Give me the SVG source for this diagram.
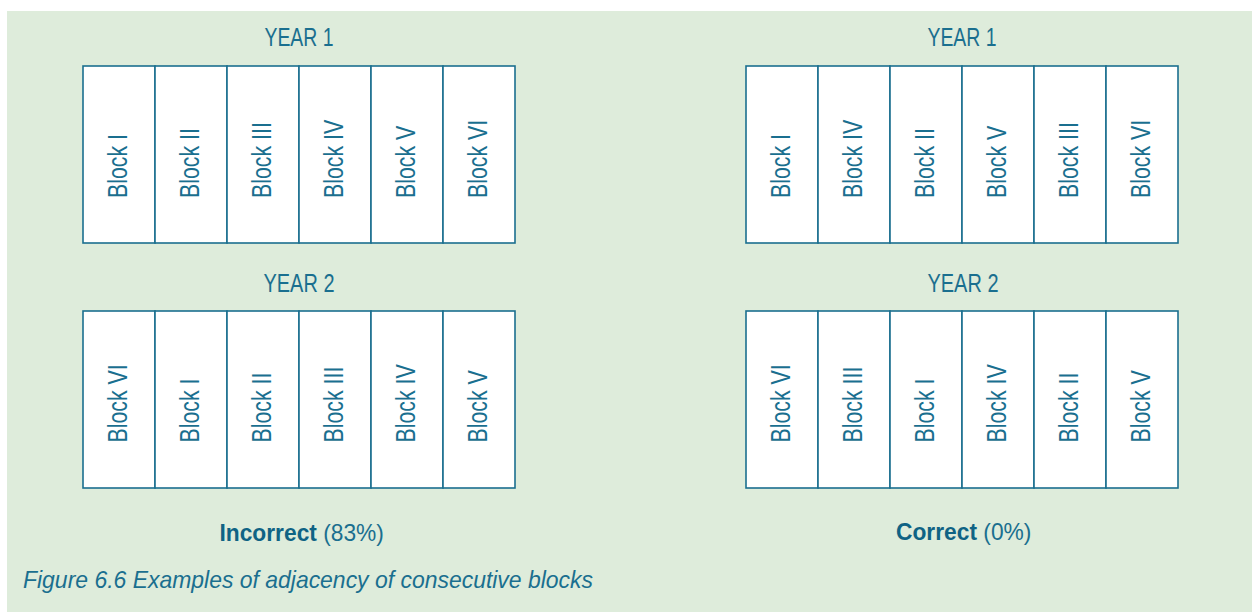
<svg xmlns="http://www.w3.org/2000/svg" width="1252" height="612" viewBox="0 0 1252 612">
<style>
.cell{fill:#ffffff;stroke:#1b6f8f;stroke-width:1.6}
.blk{font-family:"Liberation Sans",Arial,sans-serif;font-size:27px;fill:#1a6f8f}
.yr{font-family:"Liberation Sans",Arial,sans-serif;font-size:26px;fill:#1a6f8f;text-anchor:middle}
.res{font-family:"Liberation Sans",Arial,sans-serif;font-size:24.5px;fill:#1a6f8f;text-anchor:middle}
.res .b{font-weight:bold;fill:#0f6384}
.cap{font-family:"Liberation Sans",Arial,sans-serif;font-size:24px;font-style:italic;fill:#1a6f8f}
</style>
<rect x="7" y="11" width="1245" height="601" fill="#deecdb"/>

<g id="left-year1">
<text class="yr" x="299" y="46" textLength="69" lengthAdjust="spacingAndGlyphs">YEAR 1</text>
<rect class="cell" x="83" y="66" width="72" height="177"/>
<rect class="cell" x="155" y="66" width="72" height="177"/>
<rect class="cell" x="227" y="66" width="72" height="177"/>
<rect class="cell" x="299" y="66" width="72" height="177"/>
<rect class="cell" x="371" y="66" width="72" height="177"/>
<rect class="cell" x="443" y="66" width="72" height="177"/>
<text class="blk" transform="translate(126.5,198) rotate(-90) scale(0.79,1)">Block I</text>
<text class="blk" transform="translate(198.5,198) rotate(-90) scale(0.79,1)">Block II</text>
<text class="blk" transform="translate(270.5,198) rotate(-90) scale(0.79,1)">Block III</text>
<text class="blk" transform="translate(342.5,198) rotate(-90) scale(0.79,1)">Block IV</text>
<text class="blk" transform="translate(414.5,198) rotate(-90) scale(0.79,1)">Block V</text>
<text class="blk" transform="translate(486.5,198) rotate(-90) scale(0.79,1)">Block VI</text>
</g>

<g id="left-year2">
<text class="yr" x="299" y="292" textLength="71" lengthAdjust="spacingAndGlyphs">YEAR 2</text>
<rect class="cell" x="83" y="311" width="72" height="177"/>
<rect class="cell" x="155" y="311" width="72" height="177"/>
<rect class="cell" x="227" y="311" width="72" height="177"/>
<rect class="cell" x="299" y="311" width="72" height="177"/>
<rect class="cell" x="371" y="311" width="72" height="177"/>
<rect class="cell" x="443" y="311" width="72" height="177"/>
<text class="blk" transform="translate(126.5,442.5) rotate(-90) scale(0.79,1)">Block VI</text>
<text class="blk" transform="translate(198.5,442.5) rotate(-90) scale(0.79,1)">Block I</text>
<text class="blk" transform="translate(270.5,442.5) rotate(-90) scale(0.79,1)">Block II</text>
<text class="blk" transform="translate(342.5,442.5) rotate(-90) scale(0.79,1)">Block III</text>
<text class="blk" transform="translate(414.5,442.5) rotate(-90) scale(0.79,1)">Block IV</text>
<text class="blk" transform="translate(486.5,442.5) rotate(-90) scale(0.79,1)">Block V</text>
</g>

<g id="right-year1">
<text class="yr" x="962" y="46" textLength="69" lengthAdjust="spacingAndGlyphs">YEAR 1</text>
<rect class="cell" x="746" y="66" width="72" height="177"/>
<rect class="cell" x="818" y="66" width="72" height="177"/>
<rect class="cell" x="890" y="66" width="72" height="177"/>
<rect class="cell" x="962" y="66" width="72" height="177"/>
<rect class="cell" x="1034" y="66" width="72" height="177"/>
<rect class="cell" x="1106" y="66" width="72" height="177"/>
<text class="blk" transform="translate(789.5,198) rotate(-90) scale(0.79,1)">Block I</text>
<text class="blk" transform="translate(861.5,198) rotate(-90) scale(0.79,1)">Block IV</text>
<text class="blk" transform="translate(933.5,198) rotate(-90) scale(0.79,1)">Block II</text>
<text class="blk" transform="translate(1005.5,198) rotate(-90) scale(0.79,1)">Block V</text>
<text class="blk" transform="translate(1077.5,198) rotate(-90) scale(0.79,1)">Block III</text>
<text class="blk" transform="translate(1149.5,198) rotate(-90) scale(0.79,1)">Block VI</text>
</g>

<g id="right-year2">
<text class="yr" x="963" y="292" textLength="71" lengthAdjust="spacingAndGlyphs">YEAR 2</text>
<rect class="cell" x="746" y="311" width="72" height="177"/>
<rect class="cell" x="818" y="311" width="72" height="177"/>
<rect class="cell" x="890" y="311" width="72" height="177"/>
<rect class="cell" x="962" y="311" width="72" height="177"/>
<rect class="cell" x="1034" y="311" width="72" height="177"/>
<rect class="cell" x="1106" y="311" width="72" height="177"/>
<text class="blk" transform="translate(789.5,442.5) rotate(-90) scale(0.79,1)">Block VI</text>
<text class="blk" transform="translate(861.5,442.5) rotate(-90) scale(0.79,1)">Block III</text>
<text class="blk" transform="translate(933.5,442.5) rotate(-90) scale(0.79,1)">Block I</text>
<text class="blk" transform="translate(1005.5,442.5) rotate(-90) scale(0.79,1)">Block IV</text>
<text class="blk" transform="translate(1077.5,442.5) rotate(-90) scale(0.79,1)">Block II</text>
<text class="blk" transform="translate(1149.5,442.5) rotate(-90) scale(0.79,1)">Block V</text>
</g>

<g id="connectors"></g>

<g id="labels">
<text class="res" transform="translate(301.7,541) scale(0.93,1)"><tspan class="b">Incorrect</tspan> (83%)</text>
<text class="res" transform="translate(963.7,540) scale(0.93,1)"><tspan class="b">Correct</tspan> (0%)</text>
<text class="cap" x="23" y="588" textLength="570" lengthAdjust="spacingAndGlyphs">Figure 6.6 Examples of adjacency of consecutive blocks</text>
</g>
</svg>
